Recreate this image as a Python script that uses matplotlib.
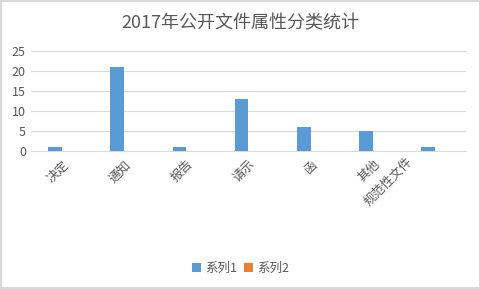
import matplotlib.pyplot as plt
import matplotlib.transforms as mtransforms
import numpy as np

plt.rcParams['font.family'] = ['Noto Sans CJK SC', 'DejaVu Sans']

# Datos
categorias = ['决定', '通知', '报告', '请示', '函', '其他', '规范性文件']
serie1 = [1, 21, 1, 13, 6, 5, 1]
serie2 = [0, 0, 0, 0, 0, 0, 0]
yticks = [0, 5, 10, 15, 20, 25]

azul = '#5B9BD5'
naranja = '#ED7D31'
gris = '#595959'

fig = plt.figure(figsize=(4.81, 2.89), dpi=100)
fig.patch.set_edgecolor('#D9D9D9')
fig.patch.set_linewidth(1.5)
ax = fig.add_axes([0.064, 0.4775, 0.905, 0.346])

x = np.arange(len(categorias))
ancho = 0.22
ax.bar(x - ancho / 2, serie1, ancho, color=azul, label='系列1', zorder=3)
ax.bar(x + ancho / 2, serie2, ancho, color=naranja, label='系列2', zorder=3)

ax.set_xlim(-0.5, len(categorias) - 0.5)
ax.set_ylim(0, 25)
ax.set_yticks(yticks)
ax.grid(axis='y', color='#D9D9D9', linewidth=0.8, zorder=0)
for s in ['top', 'right', 'left']:
    ax.spines[s].set_visible(False)
ax.spines['bottom'].set_color('#D9D9D9')
ax.tick_params(axis='both', length=0, colors=gris, labelsize=9)
ax.tick_params(axis='x', pad=5)

ax.set_xticks(x)
ax.set_xticklabels(categorias, rotation=45, ha='right', va='top', rotation_mode='anchor')
# la ultima etiqueta queda desplazada como en el original
ultima = ax.get_xticklabels()[-1]
ultima.set_transform(ultima.get_transform() + mtransforms.ScaledTranslation(-0.29, 0.03, fig.dpi_scale_trans))

fig.suptitle('2017年公开文件属性分类统计', y=0.95, fontsize=13, color=gris)

fig.legend(loc='lower center', bbox_to_anchor=(0.5, 0.01), ncol=2, frameon=False,
           fontsize=9, labelcolor=gris, handlelength=0.7, handleheight=0.7,
           handletextpad=0.3, columnspacing=0.6)

plt.savefig('out.png', dpi=100)
